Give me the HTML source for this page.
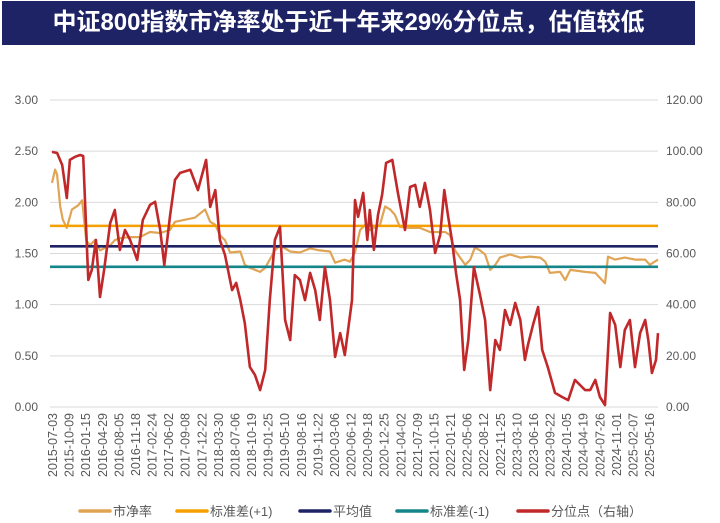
<!DOCTYPE html>
<html><head><meta charset="utf-8">
<style>
body{margin:0;background:#fff;width:720px;height:523px;overflow:hidden;font-family:"Liberation Sans","Noto Sans CJK SC",sans-serif;}
#title{position:absolute;left:2px;top:1px;width:693px;height:44px;background:#1e2366;color:#fff;font-weight:bold;font-size:24px;line-height:44px;text-align:center;font-family:"Liberation Sans","Noto Sans CJK SC",sans-serif;}
svg{position:absolute;left:0;top:0;}
</style></head><body>
<div id="title">中证800指数市净率处于近十年来29%分位点，估值较低</div>
<svg id="chart" width="720" height="523"></svg>
<script>
// months since 2015-07 and values
const pbMonths=[0.4,1.0,1.4,2.0,2.5,3.3,4.3,5.5,6.3,7.1,7.8,8.8,9.8,11.8,12.7,13.7,15.7,17.6,19.6,21.6,23.5,24.5,26.5,28.4,30.4,31.4,32.4,33.3,34.3,35.3,37.3,38.2,39.2,41.2,42.2,43.1,44.1,45.1,47.1,49.0,51.0,52.9,54.9,55.9,57.8,58.8,59.8,60.8,61.8,62.7,64.7,65.7,66.7,67.6,68.6,70.6,72.5,74.5,77.5,78.4,79.4,80.4,81.4,82.4,83.3,84.3,85.3,86.3,87.3,88.2,90.2,92.2,94.1,96.1,97.1,98.0,100.0,101.0,102.0,104.9,106.9,108.8,109.4,110.8,112.7,114.7,116.7,117.6,119.2];
const pbValues=[2.19,2.32,2.27,1.96,1.83,1.75,1.93,1.97,2.02,1.63,1.58,1.63,1.53,1.58,1.63,1.65,1.66,1.66,1.71,1.70,1.73,1.81,1.83,1.85,1.93,1.81,1.78,1.68,1.63,1.51,1.52,1.39,1.36,1.32,1.36,1.44,1.53,1.58,1.52,1.51,1.55,1.53,1.52,1.41,1.44,1.42,1.51,1.73,1.78,1.73,1.78,1.96,1.93,1.88,1.76,1.75,1.75,1.71,1.71,1.68,1.53,1.46,1.39,1.44,1.56,1.53,1.49,1.34,1.39,1.46,1.49,1.46,1.47,1.46,1.42,1.31,1.32,1.24,1.34,1.32,1.31,1.21,1.47,1.44,1.46,1.44,1.44,1.39,1.44];
const pctMonths=[0.4,1.4,2.4,3.3,3.9,4.9,5.9,6.5,7.1,7.5,8.2,9.0,9.8,10.6,11.8,12.7,13.7,14.7,15.7,17.1,18.2,19.6,20.6,21.6,22.4,23.5,24.5,25.5,27.5,29.0,30.6,31.4,32.4,33.3,34.3,35.7,36.5,37.3,38.2,39.2,40.2,41.2,42.2,43.1,44.1,45.1,46.1,47.1,48.0,49.0,50.0,51.0,52.0,52.9,53.9,54.9,55.9,56.9,57.8,59.2,59.8,60.4,61.4,62.2,62.7,63.5,64.3,65.1,65.9,67.1,68.2,69.6,70.6,71.6,72.5,73.5,74.5,75.5,76.5,77.3,78.0,78.8,79.6,80.4,81.2,82.0,83.1,84.3,85.3,86.3,87.3,88.2,89.2,90.2,91.2,92.2,93.1,93.7,94.7,95.7,96.5,97.6,99.0,100.4,101.6,102.9,103.9,104.9,105.9,106.9,107.8,108.8,109.8,110.8,111.8,112.7,113.7,114.7,115.7,116.7,117.3,118.0,118.8,119.2];
const pctValues=[99.7,99.3,94.6,81.7,96.6,97.8,98.5,98.1,69.2,49.7,53.6,65.3,43.0,53.6,71.9,77.0,61.4,69.2,65.3,57.5,73.1,79.0,80.2,69.2,55.5,74.3,88.8,91.5,92.7,84.8,96.6,78.2,84.8,65.3,59.4,45.7,48.5,41.8,32.8,15.6,12.5,6.6,14.5,41.8,65.3,70.4,34.0,26.2,51.6,49.7,41.8,52.4,45.7,34.0,54.7,41.8,19.6,28.9,20.3,41.8,80.9,74.3,83.7,65.3,77.0,61.4,75.1,82.9,95.4,96.6,83.7,69.2,86.0,86.8,78.2,87.6,77.0,60.2,67.3,84.8,75.1,65.3,52.4,41.8,14.5,26.2,54.7,43.8,34.0,6.6,26.2,22.3,37.9,32.1,40.7,34.0,18.4,24.2,32.1,39.1,22.3,15.6,5.5,3.9,2.7,10.6,8.6,6.6,6.6,10.6,3.9,0.8,36.8,32.1,15.6,30.1,34.0,15.6,28.9,34.0,26.2,13.3,18.4,28.9];
const refValues=[1.77,1.57,1.37];
const leftTicks=["0.00","0.50","1.00","1.50","2.00","2.50","3.00"];
const rightTicks=["0.00","20.00","40.00","60.00","80.00","100.00","120.00"];
const dateLabels=["2015-07-03","2015-10-09","2016-01-15","2016-04-29","2016-08-05","2016-11-18","2017-02-24","2017-06-02","2017-09-08","2017-12-22","2018-03-30","2018-07-06","2018-10-19","2019-01-25","2019-05-10","2019-08-16","2019-11-22","2020-03-06","2020-06-12","2020-09-18","2020-12-25","2021-04-02","2021-07-09","2021-10-15","2022-01-21","2022-05-06","2022-08-12","2022-11-25","2023-03-10","2023-06-16","2023-09-22","2024-01-05","2024-04-19","2024-07-26","2024-11-01","2025-02-07","2025-05-16"];
const legendNames=["市净率","标准差(+1)","平均值","标准差(-1)","分位点（右轴）"];

const NS="http://www.w3.org/2000/svg";
const svg=document.getElementById('chart');
const X0=50,X1=658,Y0=407,Y1=100;
const xS=m=>X0+(m/119.2)*(X1-X0);
const yL=v=>Y0-(v/3)*(Y0-Y1);
const yR=v=>Y0-(v/120)*(Y0-Y1);
function el(tag,attrs,parent){const e=document.createElementNS(NS,tag);for(const k in attrs)e.setAttribute(k,attrs[k]);(parent||svg).appendChild(e);return e;}

leftTicks.forEach((t,i)=>{
  const v=parseFloat(t), y=yL(v);
  const g=el('line',{x1:X0,x2:X1,y1:y,y2:y,stroke:'#d9d9d9','stroke-width':1});
  
  
  const tx=el('text',{x:38,y:y+4,'text-anchor':'end','font-size':12,fill:'#595959'});
  tx.textContent=t;
  
  
});
rightTicks.forEach((t)=>{
  const y=yR(parseFloat(t));
  const tx=el('text',{x:666,y:y+4,'text-anchor':'start','font-size':12,fill:'#595959'});
  tx.textContent=t;
  
  
});
dateLabels.forEach((d,i)=>{
  const x=53+i*(650-53)/(dateLabels.length-1);
  const tx=el('text',{x:0,y:0,transform:`translate(${x+4},${413}) rotate(-90)`,'text-anchor':'end','font-size':12.5,fill:'#595959'});
  tx.textContent=d;
  
  
});
function path(ms,vs,sc,color,w,name){
  let d='';ms.forEach((m,i)=>{d+=(i?'L':'M')+xS(m).toFixed(1)+','+sc(vs[i]).toFixed(1);});
  const p=el('path',{d:d,fill:'none',stroke:color,'stroke-width':w,'stroke-linejoin':'round'});
  
  
}
path(pbMonths,pbValues,yL,'#e0a455',2.2,'pb-line');
const refColors=['#f5a000','#1e2366','#15858c'];
const refNames=['std-plus-one-line','mean-line','std-minus-one-line'];
refValues.forEach((v,i)=>{
  const l=el('line',{x1:X0,x2:X1,y1:yL(v),y2:yL(v),stroke:refColors[i],'stroke-width':2.6});
  
  
});
path(pctMonths,pctValues,yR,'#c0282a',2.6,'percentile-line');

const legColors=['#e0a455','#f5a000','#1e2366','#15858c','#c0282a'];
const legX=[80,177,300,397,518];
legendNames.forEach((n,i)=>{
  const g=el('g',{});
  
  
  el('line',{x1:legX[i],x2:legX[i]+30,y1:511,y2:511,stroke:legColors[i],'stroke-width':3.5,'stroke-linecap':'round'},g);
  const t=el('text',{x:legX[i]+33,y:516,'font-size':13,fill:'#595959'},g);
  t.textContent=n;
});
</script>
</body></html>
